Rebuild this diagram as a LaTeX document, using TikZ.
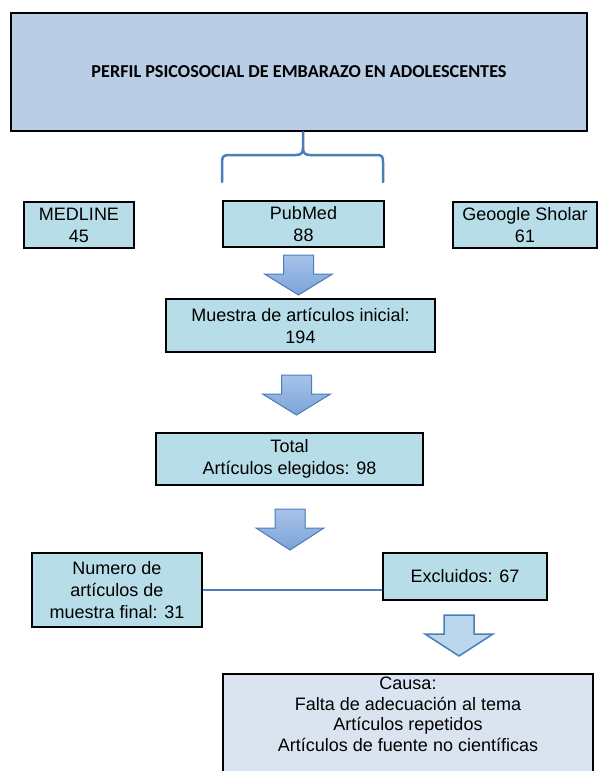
\documentclass[tikz,border=0pt]{standalone}
\usepackage{fontspec}
\setmainfont{Liberation Sans}
\newfontfamily\titlefont{Carlito}

\definecolor{titleblue}{HTML}{B9CDE5}
\definecolor{boxcyan}{HTML}{B7DEE8}
\definecolor{causeblue}{HTML}{DAE4F1}
\definecolor{linkblue}{HTML}{4A7EBB}
\definecolor{arrowtop}{HTML}{A6C3E9}
\definecolor{arrowbot}{HTML}{7CA3D7}
\definecolor{arrowlight}{HTML}{BAD7EC}

\newcommand\boxfont{\fontsize{18}{22}\selectfont}
\newcommand\causefont{\fontsize{18}{20.5}\selectfont}

% block arrow pointing down: centre x, top y, tip y
\newcommand\blockdown[4][blockarrow]{%
  \filldraw[#1] (#2-15,#3) -- (#2+15,#3) -- (#2+15,#3+19) -- (#2+34,#3+19)
    -- (#2,#4) -- (#2-34,#3+19) -- (#2-15,#3+19) -- cycle;}

\tikzset{
  titlebox/.style={draw=black, line width=2.5pt, fill=titleblue, inner sep=0pt,
    minimum width=576pt, minimum height=118pt},
  srcbox/.style={draw=black, line width=2pt, fill=boxcyan, inner sep=0pt,
    align=center, font=\boxfont},
  causebox/.style={draw=black, line width=2pt, fill=causeblue, inner sep=0pt},
  blockarrow/.style={draw=linkblue, line width=1pt, line join=miter,
    top color=arrowtop, bottom color=arrowbot},
  lightarrow/.style={draw=linkblue, line width=1.5pt, line join=miter, fill=arrowlight},
  linkline/.style={draw=linkblue, line width=2.5pt},
}

\begin{document}
\begin{tikzpicture}[x=1pt,y=-1pt]

	\clip (0,0) rectangle (598,771);
	\fill[white] (0,0) rectangle (598,771);

	% Title
	\node[titlebox] (titulo) at (299,72)
		{\titlefont\bfseries\fontsize{18.2}{21}\selectfont PERFIL PSICOSOCIAL DE EMBARAZO EN ADOLESCENTES};

	%% Brace
	\draw[linkline, line cap=round, line join=round]
		(222,182) -- (222,162) .. controls (222,156) and (224,155) .. (230,155)
		-- (296,155) .. controls (301,155) and (303,153) .. (303,148) -- (titulo.south -| 303,0);
	\draw[linkline, line cap=round, line join=round]
		(303,148) .. controls (303,153) and (305,155) .. (310,155)
		-- (376,155) .. controls (382,155) and (383,156) .. (383,162) -- (383,182);

	% Sources
	\node[srcbox, minimum width=110pt, minimum height=46pt] (medline) at (79,225) {MEDLINE\\45};
	\node[srcbox, minimum width=161pt, minimum height=46pt] (pubmed) at (303.5,224) {PubMed\\88};
	\node[srcbox, minimum width=144pt, minimum height=46pt] (scholar) at (525,225) {Geoogle Sholar\\61};

	\blockdown{298.5}{255}{295}

	% Initial sample
	\node[srcbox, minimum width=269pt, minimum height=53pt] (muestra) at (300.5,325.5)
		{Muestra de artículos inicial:\\194};

	\blockdown{296.5}{375}{415}

	% Chosen
	\node[srcbox, minimum width=267pt, minimum height=52pt] (total) at (289.5,459)
		{Total\\Artículos elegidos: 98};

	\blockdown{290}{509}{550}

	% Final and excluded
	\node[srcbox, minimum width=170pt, minimum height=74pt] (final) at (117,590)
		{Numero de\\artículos de\\muestra final: 31};
	\node[srcbox, minimum width=164pt, minimum height=47pt] (excluidos) at (465,576.5)
		{Excluidos: 67};
	\draw[linkline] (final.east) -- (final.east -| excluidos.west);

	\blockdown[lightarrow]{459}{615}{656}

	% Causes
	\node[causebox, minimum width=370pt, minimum height=130pt, anchor=north] (causa) at (408,673) {};
	\node[anchor=north, align=center, font=\causefont, inner sep=0pt] (causatext)
		at ([yshift=-4pt]causa.north)
		{Causa:\\Falta de adecuación al tema\\Artículos repetidos\\Artículos de fuente no científicas};

\end{tikzpicture}
\end{document}
